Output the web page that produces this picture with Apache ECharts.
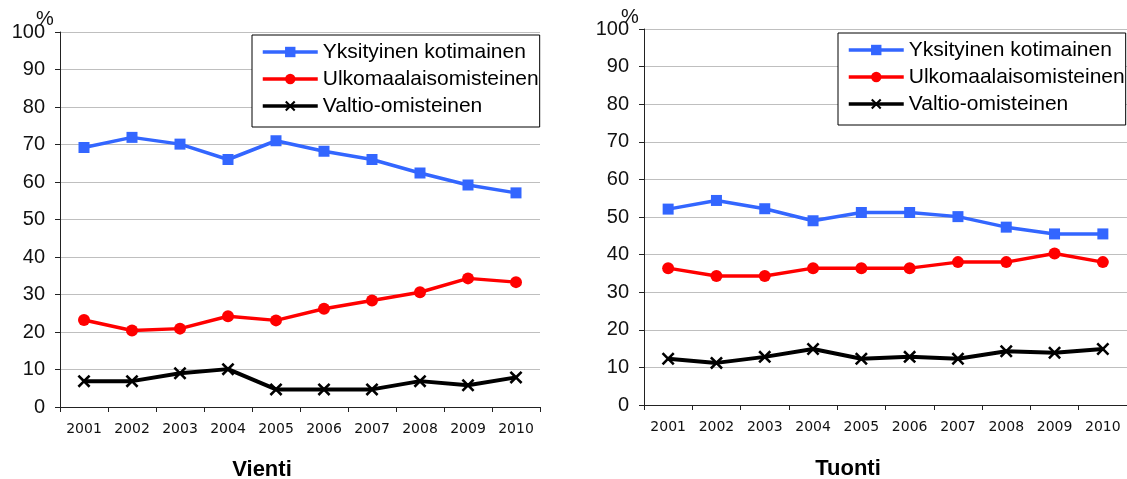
<!DOCTYPE html>
<html>
<head>
<meta charset="utf-8">
<script src="https://cdn.jsdelivr.net/npm/echarts@6/dist/echarts.min.js"></script>
<style>
html,body{margin:0;padding:0;background:#fff;}
#c{width:1127px;height:479px;}
</style>
</head>
<body>
<div id="c"></div>
<script>
var categories = ['2001','2002','2003','2004','2005','2006','2007','2008','2009','2010'];
var yTicks = [0,10,20,30,40,50,60,70,80,90,100];
var seriesNames = ['Yksityinen kotimainen','Ulkomaalaisomisteinen','Valtio-omisteinen'];
var chartTitles = ['Vienti','Tuonti'];
var unitLabel = '%';

var vientiYksityinen = [69.2, 71.9, 70.1, 66.0, 71.0, 68.2, 66.0, 62.4, 59.2, 57.1];
var vientiUlkomaalais = [23.2, 20.4, 20.9, 24.2, 23.1, 26.2, 28.4, 30.6, 34.3, 33.3];
var vientiValtio = [6.9, 6.9, 9.0, 10.1, 4.7, 4.7, 4.7, 6.9, 5.8, 7.9];

var tuontiYksityinen = [52.1, 54.4, 52.2, 49.0, 51.2, 51.2, 50.1, 47.3, 45.5, 45.5];
var tuontiUlkomaalais = [36.4, 34.3, 34.3, 36.4, 36.4, 36.4, 38.0, 38.0, 40.3, 38.0];
var tuontiValtio = [12.3, 11.2, 12.8, 14.9, 12.3, 12.8, 12.3, 14.3, 13.9, 14.9];

var BLUE = '#3366FF', RED = '#FF0000', BLACK = '#000000';
var CROSS = 'path://M0,1.4 L1.4,0 L5,3.6 L8.6,0 L10,1.4 L6.4,5 L10,8.6 L8.6,10 L5,6.4 L1.4,10 L0,8.6 L3.6,5 Z';

var chart = echarts.init(document.getElementById('c'), null, {renderer:'canvas'});

function xAx(gi){
  return {
    type:'category', gridIndex:gi, data:categories, boundaryGap:true,
    axisLine:{lineStyle:{color:'#222',width:1}},
    axisTick:{show:true,length:5,alignWithLabel:false,lineStyle:{color:'#222'}},
    axisLabel:{fontFamily:'DejaVu Sans',fontSize:14,color:'#111',margin:15,interval:0},
    splitLine:{show:false}
  };
}
function yAx(gi){
  return {
    type:'value', gridIndex:gi, min:0, max:100, interval:10,
    axisLine:{show:true,lineStyle:{color:'#222',width:1}},
    axisTick:{show:true,length:5,lineStyle:{color:'#222'}},
    axisLabel:{fontFamily:'Liberation Sans',fontSize:20,color:'#111',margin:15,
      formatter:function(v){return yTicks.indexOf(v)>=0?String(v):'';}},
    splitLine:{show:true,lineStyle:{color:'#BFBFBF',width:1}}
  };
}
function ser(name, data, gi, color, symbol, size, lw){
  return {
    name:name, type:'line', xAxisIndex:gi, yAxisIndex:gi, data:data,
    symbol:symbol, symbolSize:size, showAllSymbol:true,
    lineStyle:{color:color,width:lw},
    itemStyle:{color:color},
    emphasis:{disabled:true}, animation:false
  };
}
function leg(left, top){
  return {
    orient:'vertical', left:left, top:top, selectedMode:false,
    data:seriesNames,
    itemWidth:55, itemHeight:13, itemGap:3,
    padding:[5,1,9,9],
    borderColor:'#000', borderWidth:1, backgroundColor:'#fff',
    lineStyle:{width:3.5},
    textStyle:{fontFamily:'Liberation Sans',fontSize:21,color:'#000',lineHeight:24}
  };
}

var option = {
  animation:false,
  backgroundColor:'#fff',
  grid:[
    {left:60, top:32, width:480, height:375, containLabel:false},
    {left:644, top:29, width:483, height:376, containLabel:false}
  ],
  xAxis:[xAx(0), xAx(1)],
  yAxis:[yAx(0), yAx(1)],
  legend:[leg(252,35), leg(838,33)],
  series:[
    ser(seriesNames[0], vientiYksityinen, 0, BLUE, 'rect', 11, 3.5),
    ser(seriesNames[1], vientiUlkomaalais, 0, RED, 'circle', 12, 3.5),
    ser(seriesNames[2], vientiValtio, 0, BLACK, CROSS, 13, 4),
    ser(seriesNames[0], tuontiYksityinen, 1, BLUE, 'rect', 11, 3.5),
    ser(seriesNames[1], tuontiUlkomaalais, 1, RED, 'circle', 12, 3.5),
    ser(seriesNames[2], tuontiValtio, 1, BLACK, CROSS, 13, 4)
  ],
  graphic:[
    {type:'text', x:45, y:19, style:{text:unitLabel, font:'20px "Liberation Sans"', fill:'#111', align:'center', verticalAlign:'middle'}},
    {type:'text', x:630, y:17, style:{text:unitLabel, font:'20px "Liberation Sans"', fill:'#111', align:'center', verticalAlign:'middle'}},
    {type:'text', x:262, y:470, style:{text:chartTitles[0], font:'bold 22px "Liberation Sans"', fill:'#000', align:'center', verticalAlign:'middle'}},
    {type:'text', x:848, y:469, style:{text:chartTitles[1], font:'bold 22px "Liberation Sans"', fill:'#000', align:'center', verticalAlign:'middle'}}
  ]
};
chart.setOption(option);
</script>
</body>
</html>
